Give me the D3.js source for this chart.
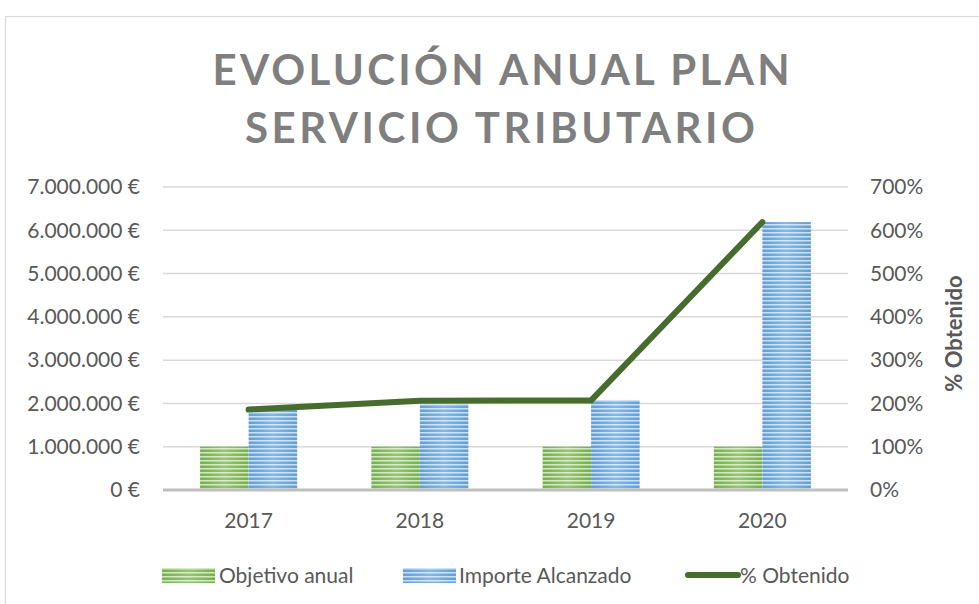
<!DOCTYPE html>
<html lang="es">
<head>
  <meta charset="UTF-8">
  <title>Evolución anual plan servicio tributario</title>
  <style>
    html, body {
      margin: 0;
      padding: 0;
      background: #fff;
      overflow: hidden;
    }
    svg {
      display: block;
      font-family: Lato, "Open Sans", sans-serif;
    }
  </style>
</head>
<body>
  <svg id="chart" width="979" height="604"></svg>

  <script src="https://d3js.org/d3.v7.min.js"></script>
  <script>
    // data
    const years = ["2017", "2018", "2019", "2020"];
    const objetivo = [1000000, 1000000, 1000000, 1000000];
    const importe = [1850000, 1990000, 2080000, 6190000];
    const obtenido = [1.86, 2.06, 2.07, 6.19];
    const euroTicks = [0, 1000000, 2000000, 3000000, 4000000, 5000000, 6000000, 7000000];
    const pctTicks = [0, 1, 2, 3, 4, 5, 6, 7];
    const seriesNames = ["Objetivo anual", "Importe Alcanzado", "% Obtenido"];

    const textColor = "#595959";
    const gridColor = "#d9d9d9";
    const lineColor = "#466d2d";
    const fontSize = 21;

    const svg = d3.select("#chart");
    const margin = { left: 163, right: 848, top: 187, bottom: 490 };

    // outer chart frame (cut off by the window on the right and bottom)
    svg.append("rect")
      .attr("x", 5.5).attr("y", 16.5)
      .attr("width", 1100).attr("height", 800)
      .attr("fill", "none")
      .attr("stroke", gridColor)
      .attr("stroke-width", 1.2);

    // striped fills
    const defs = svg.append("defs");
    function stripes(id, dark, light) {
      const p = defs.append("pattern")
        .attr("id", id)
        .attr("patternUnits", "userSpaceOnUse")
        .attr("width", 8).attr("height", 4);
      p.append("rect").attr("width", 8).attr("height", 4).attr("fill", light);
      p.append("rect").attr("y", 1.5).attr("width", 8).attr("height", 2.5).attr("fill", dark);
    }
    stripes("greenStripes", "#74b04b", "#cfe6c0");
    stripes("blueStripes", "#5f9fd8", "#c9def2");
    const shade = defs.append("linearGradient").attr("id", "shade");
    shade.append("stop").attr("offset", "0%").attr("stop-color", "#fff").attr("stop-opacity", 0);
    shade.append("stop").attr("offset", "50%").attr("stop-color", "#fff").attr("stop-opacity", 0.25);
    shade.append("stop").attr("offset", "100%").attr("stop-color", "#fff").attr("stop-opacity", 0);

    // title
    const title = svg.append("g")
      .attr("fill", "#7f7f7f")
      .attr("font-weight", "bold")
      .attr("font-size", 42)
      .attr("text-anchor", "middle");
    title.append("text").attr("x", 501).attr("y", 85)
      .attr("textLength", 577).attr("lengthAdjust", "spacing")
      .text("EVOLUCIÓN ANUAL PLAN");
    title.append("text").attr("x", 500).attr("y", 143)
      .attr("textLength", 510).attr("lengthAdjust", "spacing")
      .text("SERVICIO TRIBUTARIO");

    // scales
    const x0 = d3.scaleBand().domain(years).range([margin.left, margin.right]);
    const x1 = d3.scaleBand().domain(seriesNames.slice(0, 2))
      .range([0, x0.bandwidth()]).paddingOuter(0.765);
    const y = d3.scaleLinear().domain([0, 7000000]).range([margin.bottom, margin.top]);
    const yPct = d3.scaleLinear().domain([0, 7]).range([margin.bottom, margin.top]);

    // gridlines
    svg.append("g")
      .selectAll("line")
      .data(euroTicks.slice(1))
      .join("line")
      .attr("x1", margin.left).attr("x2", margin.right)
      .attr("y1", d => y(d)).attr("y2", d => y(d))
      .attr("stroke", gridColor)
      .attr("stroke-width", 1.5);

    // left axis
    const fmtEuro = d => d3.format(",")(d).replace(/,/g, ".") + " €";
    const yAxis = svg.append("g")
      .attr("transform", `translate(${margin.left},0)`)
      .call(d3.axisLeft(y).tickValues(euroTicks).tickFormat(fmtEuro).tickSize(0).tickPadding(23));
    yAxis.select(".domain").remove();
    yAxis.selectAll("text")
      .attr("fill", textColor).attr("font-size", fontSize).attr("font-family", "Lato, sans-serif");

    // right axis
    const yAxisR = svg.append("g")
      .attr("transform", `translate(${margin.right},0)`)
      .call(d3.axisRight(yPct).tickValues(pctTicks).tickFormat(d => (d * 100) + "%").tickSize(0).tickPadding(22));
    yAxisR.select(".domain").remove();
    yAxisR.selectAll("text")
      .attr("fill", textColor).attr("font-size", fontSize).attr("font-family", "Lato, sans-serif");

    svg.append("text")
      .attr("transform", `translate(962,${(margin.top + margin.bottom) / 2 - 5}) rotate(-90)`)
      .attr("text-anchor", "middle")
      .attr("font-weight", "bold")
      .attr("font-size", 22)
      .attr("fill", textColor)
      .text("% Obtenido");

    // bars
    const barRows = [
      { name: seriesNames[0], values: objetivo, fill: "url(#greenStripes)" },
      { name: seriesNames[1], values: importe, fill: "url(#blueStripes)" }
    ];
    const bars = svg.append("g");
    barRows.forEach(s => {
      const g = bars.append("g");
      g.selectAll("rect.bar")
        .data(years)
        .join("rect")
        .attr("class", "bar")
        .attr("x", (d, i) => x0(d) + x1(s.name))
        .attr("y", (d, i) => y(s.values[i]))
        .attr("width", x1.bandwidth())
        .attr("height", (d, i) => y(0) - y(s.values[i]))
        .attr("fill", s.fill);
      g.selectAll("rect.shade")
        .data(years)
        .join("rect")
        .attr("class", "shade")
        .attr("x", (d, i) => x0(d) + x1(s.name))
        .attr("y", (d, i) => y(s.values[i]))
        .attr("width", x1.bandwidth())
        .attr("height", (d, i) => y(0) - y(s.values[i]))
        .attr("fill", "url(#shade)");
    });

    // baseline
    svg.append("line")
      .attr("x1", margin.left).attr("x2", margin.right)
      .attr("y1", y(0)).attr("y2", y(0))
      .attr("stroke", "#bfbfbf")
      .attr("stroke-width", 3);

    // x labels
    svg.append("g")
      .selectAll("text")
      .data(years)
      .join("text")
      .attr("x", d => x0(d) + x0.bandwidth() / 2)
      .attr("y", 528)
      .attr("text-anchor", "middle")
      .attr("font-size", fontSize)
      .attr("fill", textColor)
      .text(d => d);

    // % line
    const line = d3.line()
      .x((d, i) => x0(years[i]) + x0.bandwidth() / 2)
      .y(d => yPct(d));
    svg.append("path")
      .datum(obtenido)
      .attr("d", line)
      .attr("fill", "none")
      .attr("stroke", lineColor)
      .attr("stroke-width", 6)
      .attr("stroke-linecap", "round")
      .attr("stroke-linejoin", "round");

    // legend
    const legend = svg.append("g").attr("font-size", fontSize).attr("fill", textColor);
    const legendItems = [
      { name: seriesNames[0], x: 162, fill: "url(#greenStripes)", tx: 219 },
      { name: seriesNames[1], x: 403, fill: "url(#blueStripes)", tx: 459 },
      { name: seriesNames[2], x: 685, line: true, tx: 740 }
    ];
    legendItems.forEach(it => {
      if (it.line) {
        legend.append("line")
          .attr("x1", it.x + 3).attr("x2", it.x + 53)
          .attr("y1", 575).attr("y2", 575)
          .attr("stroke", lineColor).attr("stroke-width", 6)
          .attr("stroke-linecap", "round");
      } else {
        legend.append("rect")
          .attr("x", it.x).attr("y", 568)
          .attr("width", 53).attr("height", 15)
          .attr("fill", it.fill);
        legend.append("rect")
          .attr("x", it.x).attr("y", 568)
          .attr("width", 53).attr("height", 15)
          .attr("fill", "url(#shade)");
      }
      legend.append("text")
        .attr("x", it.tx).attr("y", 583)
        .text(it.name);
    });
  </script>
</body>
</html>
